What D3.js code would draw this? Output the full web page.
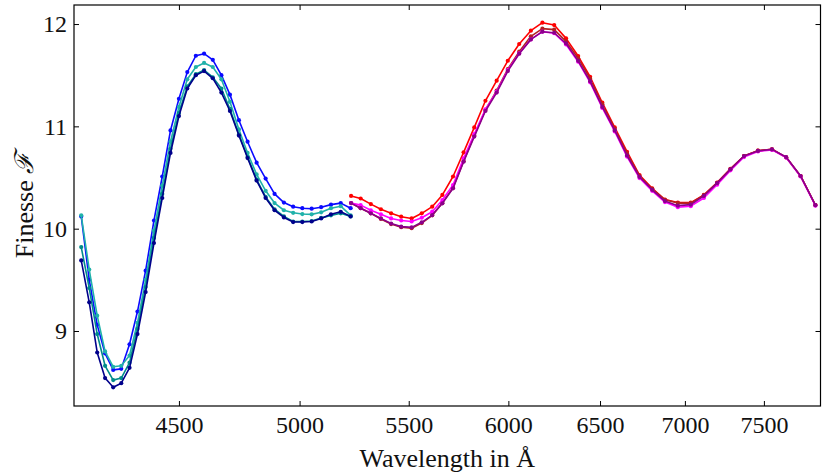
<!DOCTYPE html>
<html>
<head>
<meta charset="utf-8">
<script src="https://cdn.jsdelivr.net/npm/d3@7"></script>
<style>
body { margin: 0; background: #fff; }
</style>
</head>
<body>
<div id="finesseplot"></div>
<script>

// wavelengths (Angstrom) of the two measurement runs
var waveBlue = [4132, 4161, 4190, 4219, 4249, 4279, 4310, 4340, 4371, 4403, 4435, 4467, 4500, 4533, 4567, 4600,
                4635, 4670, 4705, 4742, 4778, 4816, 4854, 4892, 4932, 4972, 5012, 5053, 5095, 5139, 5183, 5228]
var waveRed = [5230, 5274, 5321, 5368, 5416, 5464, 5514, 5563, 5614, 5664, 5717, 5770, 5824, 5881, 5939, 5997,
               6057, 6119, 6181, 6245, 6310, 6377, 6444, 6513, 6584, 6655, 6728, 6803, 6879, 6957, 7036, 7117,
               7200, 7284, 7371, 7461, 7553, 7647, 7744, 7845]

// finesse values, blue run
var finBlue = [10.12, 9.50, 9.06, 8.78, 8.62, 8.63, 8.87, 9.19, 9.59, 10.08, 10.51, 10.96, 11.27, 11.53, 11.69, 11.71,
               11.65, 11.50, 11.31, 11.06, 10.85, 10.645, 10.49, 10.34, 10.255, 10.215, 10.20, 10.195, 10.21, 10.235, 10.25, 10.20]
var finCyan = [10.13, 9.60, 9.15, 8.80, 8.65, 8.66, 8.76, 9.08, 9.50, 9.98, 10.42, 10.85, 11.19, 11.46, 11.58, 11.62,
               11.58, 11.46, 11.24, 10.97, 10.74, 10.53, 10.37, 10.25, 10.18, 10.155, 10.143, 10.14, 10.16, 10.20, 10.22, 10.13]
var finTeal = [9.82, 9.42, 8.97, 8.66, 8.52, 8.54, 8.69, 9.02, 9.43, 9.91, 10.34, 10.78, 11.13, 11.39, 11.51, 11.55,
               11.48, 11.37, 11.17, 10.92, 10.70, 10.48, 10.31, 10.19, 10.12, 10.07, 10.07, 10.075, 10.105, 10.13, 10.15, 10.12]
var finNavy = [9.69, 9.28, 8.79, 8.54, 8.45, 8.49, 8.64, 8.97, 9.38, 9.86, 10.30, 10.74, 11.10, 11.37, 11.50, 11.54,
               11.47, 11.33, 11.15, 10.91, 10.69, 10.47, 10.30, 10.18, 10.11, 10.065, 10.065, 10.07, 10.10, 10.14, 10.165, 10.12]

// finesse values, red run
var finRed = [10.32, 10.295, 10.24, 10.19, 10.15, 10.117, 10.10, 10.15, 10.215, 10.33, 10.51, 10.746, 10.99, 11.25,
              11.446, 11.641, 11.805, 11.935, 12.013, 11.99, 11.86, 11.687, 11.485, 11.231, 10.99, 10.752, 10.524,
              10.394, 10.285, 10.255, 10.255, 10.33, 10.45, 10.585, 10.71, 10.762, 10.776, 10.697, 10.515, 10.231]
var finBrown = [10.25, 10.20, 10.15, 10.095, 10.045, 10.015, 10.005, 10.055, 10.13, 10.25, 10.40, 10.66, 10.91, 11.16,
                11.35, 11.56, 11.73, 11.88, 11.955, 11.945, 11.83, 11.665, 11.465, 11.215, 10.975, 10.735, 10.515,
                10.388, 10.282, 10.25, 10.25, 10.327, 10.448, 10.583, 10.71, 10.762, 10.776, 10.697, 10.515, 10.231]
var finMagenta = [10.25, 10.23, 10.18, 10.14, 10.10, 10.08, 10.07, 10.107, 10.166, 10.28, 10.427, 10.687, 10.925, 11.166,
                  11.339, 11.55, 11.713, 11.85, 11.925, 11.91, 11.80, 11.632, 11.43, 11.18, 10.95, 10.705, 10.495,
                  10.37, 10.26, 10.21, 10.22, 10.30, 10.43, 10.57, 10.70, 10.755, 10.77, 10.695, 10.51, 10.225]
var finPurple = [10.25, 10.20, 10.15, 10.10, 10.05, 10.02, 10.013, 10.062, 10.133, 10.248, 10.394, 10.655, 10.90, 11.15,
                 11.33, 11.54, 11.71, 11.85, 11.925, 11.915, 11.81, 11.64, 11.44, 11.19, 10.96, 10.715, 10.505,
                 10.38, 10.27, 10.225, 10.235, 10.32, 10.445, 10.58, 10.71, 10.76, 10.775, 10.70, 10.515, 10.23]

// tick labels
var xTicks = [4500, 5000, 5500, 6000, 6500, 7000, 7500]
var yTicks = [9, 10, 11, 12]

// set the dimensions and margins of the graph
var margin = {top: 5, right: 9.5, bottom: 69, left: 74},
    width = 830 - margin.left - margin.right,
    height = 475 - margin.top - margin.bottom;

var svg = d3.select("#finesseplot")
  .append("svg")
    .attr("width", width + margin.left + margin.right)
    .attr("height", height + margin.top + margin.bottom)
  .append("g")
    .attr("transform", "translate(" + margin.left + "," + margin.top + ")");

var x = d3.scaleLog()
  .domain([4106, 7880])
  .range([0, width]);

var y = d3.scaleLinear()
  .domain([8.267, 12.186])
  .range([height, 0]);

var tickFont = "'Liberation Serif', 'Times New Roman', serif"

// bottom + top axis, ticks pointing inward
svg.append("g")
  .attr("transform", "translate(0," + height + ")")
  .call(d3.axisBottom(x).tickValues(xTicks).tickFormat(d3.format("d")).tickSizeInner(-5).tickSizeOuter(0).tickPadding(9.5))
  .call(function(g) { g.select(".domain").remove() })
  .selectAll("text")
    .style("font-family", tickFont)
    .style("font-size", "24px")
    .attr("fill", "#111");

svg.append("g")
  .call(d3.axisTop(x).tickValues(xTicks).tickFormat("").tickSizeInner(-5).tickSizeOuter(0))
  .call(function(g) { g.select(".domain").remove() });

// left + right axis
svg.append("g")
  .call(d3.axisLeft(y).tickValues(yTicks).tickFormat(d3.format("d")).tickSizeInner(-5).tickSizeOuter(0).tickPadding(7))
  .call(function(g) { g.select(".domain").remove() })
  .selectAll("text")
    .style("font-family", tickFont)
    .style("font-size", "24px")
    .attr("fill", "#111");

svg.append("g")
  .attr("transform", "translate(" + width + ",0)")
  .call(d3.axisRight(y).tickValues(yTicks).tickFormat("").tickSizeInner(-5).tickSizeOuter(0))
  .call(function(g) { g.select(".domain").remove() });

svg.selectAll(".tick line").attr("stroke", "#000").attr("stroke-width", 1);

// the curves
var series = [
  {color: "#0a0aff", wave: waveBlue, fin: finBlue},
  {color: "#20b2aa", wave: waveBlue, fin: finCyan},
  {color: "#008b8b", wave: waveBlue, fin: finTeal},
  {color: "#00008b", wave: waveBlue, fin: finNavy},
  {color: "#ff0000", wave: waveRed, fin: finRed},
  {color: "#b22222", wave: waveRed, fin: finBrown},
  {color: "#ff00ff", wave: waveRed, fin: finMagenta},
  {color: "#8b008b", wave: waveRed, fin: finPurple}
]

var line = d3.line()
  .x(function(d) { return x(d[0]); })
  .y(function(d) { return y(d[1]); })

series.forEach(function(s) {
  var pts = d3.zip(s.wave, s.fin)
  var grp = svg.append("g")
  grp.append("path")
    .datum(pts)
    .attr("fill", "none")
    .attr("stroke", s.color)
    .attr("stroke-width", 1.6)
    .attr("stroke-linejoin", "round")
    .attr("d", line)
  grp.selectAll("circle")
    .data(pts)
    .enter()
    .append("circle")
      .attr("cx", function(d) { return x(d[0]); })
      .attr("cy", function(d) { return y(d[1]); })
      .attr("r", 2.1)
      .attr("fill", s.color)
})

// frame
svg.append("rect")
  .attr("width", width)
  .attr("height", height)
  .attr("fill", "none")
  .attr("stroke", "#000")
  .attr("stroke-width", 1.2);

// axis titles
svg.append("text")
  .attr("x", width / 2)
  .attr("y", height + 61)
  .attr("text-anchor", "middle")
  .style("font-family", tickFont)
  .style("font-size", "26px")
  .attr("fill", "#111")
  .text("Wavelength in Å");

var ylab = svg.append("text")
  .attr("transform", "translate(" + (-41) + "," + (height / 2) + ")rotate(-90)")
  .attr("text-anchor", "middle")
  .style("font-family", tickFont)
  .style("font-size", "26px")
  .attr("fill", "#111")
ylab.append("tspan").text("Finesse ")
ylab.append("tspan").style("font-style", "italic").text("ℱ")

</script>
</body>
</html>
